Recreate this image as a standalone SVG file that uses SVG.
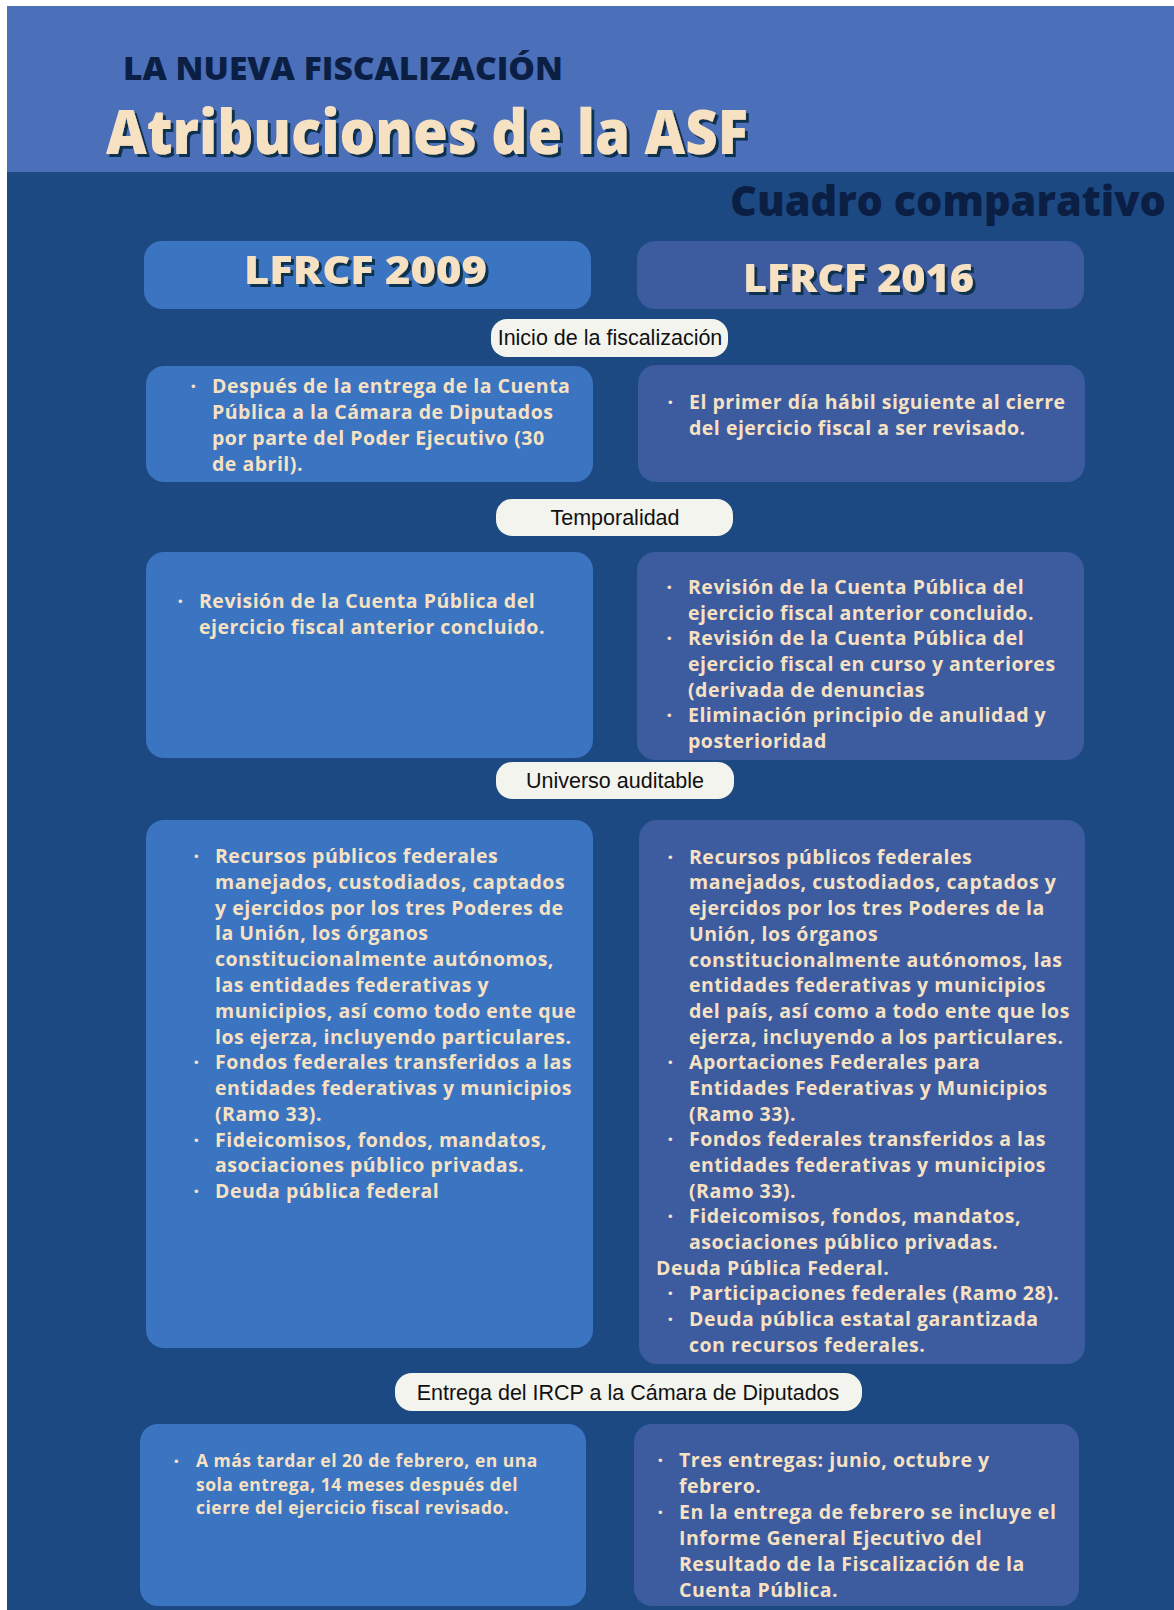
<svg xmlns="http://www.w3.org/2000/svg" width="1174" height="1610" viewBox="0 0 1174 1610">
<defs>
<filter id="sh" x="-5%" y="-20%" width="115%" height="150%">
<feDropShadow dx="3" dy="3" stdDeviation="0.6" flood-color="#0F3050" flood-opacity="1"/>
</filter>
<style>
.bg{fill:#1D4983}
.l{fill:#3B74C1}
.r{fill:#3D5B9F}
.pill{fill:#F3F4EE}
.pt{font-family:"Liberation Sans",Arial,sans-serif;font-size:21.5px;fill:#111;text-anchor:middle}
.t{font-family:"Open Sans","Liberation Sans",sans-serif;font-weight:700;font-size:19.5px;letter-spacing:0.5px;fill:#F7E1C3}
.s{font-size:17.5px}
.b{font-family:"Liberation Sans",sans-serif;font-size:13px;fill:#F7E1C3}
.dark{font-family:"Open Sans","Liberation Sans",sans-serif;font-weight:800;fill:#0B1F45}
.cream{font-family:"Open Sans","Liberation Sans",sans-serif;font-weight:800;fill:#F7E1C3;filter:url(#sh)}
</style>
</defs>
<rect x="0" y="0" width="1174" height="1610" fill="#ffffff"/>
<rect class="bg" x="7" y="6" width="1167" height="1604"/>
<rect x="7" y="6" width="1167" height="166" fill="#4B6FB8"/>

<g id="title">
<text class="dark" x="123" y="80" font-size="32" textLength="440" lengthAdjust="spacingAndGlyphs">LA NUEVA FISCALIZACIÓN</text>
<text class="cream" x="106" y="154" font-size="62" textLength="642" lengthAdjust="spacingAndGlyphs">Atribuciones de la ASF</text>
<text class="dark" x="730" y="216" font-size="42" textLength="436" lengthAdjust="spacingAndGlyphs">Cuadro comparativo</text>
</g>

<g id="head2009">
<rect class="l" x="144" y="241" width="447" height="68" rx="18"/>
<text class="cream" x="244" y="284" font-size="38" textLength="243" lengthAdjust="spacingAndGlyphs">LFRCF 2009</text>
</g>
<g id="head2016">
<rect class="r" x="637" y="241" width="447" height="68" rx="18"/>
<text class="cream" x="743" y="292" font-size="38" textLength="231" lengthAdjust="spacingAndGlyphs">LFRCF 2016</text>
</g>

<g id="pill-inicio">
<rect class="pill" x="491" y="319" width="237" height="38" rx="16"/>
<text class="pt" x="610" y="345">Inicio de la fiscalización</text>
</g>
<g id="inicio-2009">
<rect class="l" x="146" y="366" width="447" height="116" rx="18"/>
<text class="b" x="191" y="391">•</text>
<text class="t"><tspan x="212" y="393">Después de la entrega de la Cuenta</tspan><tspan x="212" y="419">Pública a la Cámara de Diputados</tspan><tspan x="212" y="445">por parte del Poder Ejecutivo (30</tspan><tspan x="212" y="471">de abril).</tspan></text>
</g>
<g id="inicio-2016">
<rect class="r" x="638" y="365" width="447" height="117" rx="18"/>
<text class="b" x="668" y="407">•</text>
<text class="t"><tspan x="689" y="409">El primer día hábil siguiente al cierre</tspan><tspan x="689" y="435">del ejercicio fiscal a ser revisado.</tspan></text>
</g>

<g id="pill-temporalidad">
<rect class="pill" x="496" y="499" width="237" height="37" rx="16"/>
<text class="pt" x="615" y="525">Temporalidad</text>
</g>
<g id="temp-2009">
<rect class="l" x="146" y="552" width="447" height="206" rx="18"/>
<text class="b" x="178" y="606">•</text>
<text class="t"><tspan x="199" y="608">Revisión de la Cuenta Pública del</tspan><tspan x="199" y="634">ejercicio fiscal anterior concluido.</tspan></text>
</g>
<g id="temp-2016">
<rect class="r" x="637" y="552" width="447" height="208" rx="18"/>
<text class="b" x="667" y="592">•</text>
<text class="b" x="667" y="643">•</text>
<text class="b" x="667" y="720">•</text>
<text class="t"><tspan x="688" y="594">Revisión de la Cuenta Pública del</tspan><tspan x="688" y="620">ejercicio fiscal anterior concluido.</tspan><tspan x="688" y="645">Revisión de la Cuenta Pública del</tspan><tspan x="688" y="671">ejercicio fiscal en curso y anteriores</tspan><tspan x="688" y="697">(derivada de denuncias</tspan><tspan x="688" y="722">Eliminación principio de anulidad y</tspan><tspan x="688" y="748">posterioridad</tspan></text>
</g>

<g id="pill-universo">
<rect class="pill" x="496" y="762" width="238" height="37" rx="16"/>
<text class="pt" x="615" y="788">Universo auditable</text>
</g>
<g id="univ-2009">
<rect class="l" x="146" y="820" width="447" height="528" rx="18"/>
<text class="b" x="194" y="861">•</text>
<text class="b" x="194" y="1067">•</text>
<text class="b" x="194" y="1145">•</text>
<text class="b" x="194" y="1196">•</text>
<text class="t"><tspan x="215" y="863">Recursos públicos federales</tspan><tspan x="215" y="889">manejados, custodiados, captados</tspan><tspan x="215" y="915">y ejercidos por los tres Poderes de</tspan><tspan x="215" y="940">la Unión, los órganos</tspan><tspan x="215" y="966">constitucionalmente autónomos,</tspan><tspan x="215" y="992">las entidades federativas y</tspan><tspan x="215" y="1018">municipios, así como todo ente que</tspan><tspan x="215" y="1044">los ejerza, incluyendo particulares.</tspan><tspan x="215" y="1069">Fondos federales transferidos a las</tspan><tspan x="215" y="1095">entidades federativas y municipios</tspan><tspan x="215" y="1121">(Ramo 33).</tspan><tspan x="215" y="1147">Fideicomisos, fondos, mandatos,</tspan><tspan x="215" y="1172">asociaciones público privadas.</tspan><tspan x="215" y="1198">Deuda pública federal</tspan></text>
</g>
<g id="univ-2016">
<rect class="r" x="639" y="820" width="446" height="544" rx="18"/>
<text class="b" x="668" y="862">•</text>
<text class="b" x="668" y="1067">•</text>
<text class="b" x="668" y="1144">•</text>
<text class="b" x="668" y="1221">•</text>
<text class="b" x="668" y="1298">•</text>
<text class="b" x="668" y="1324">•</text>
<text class="t"><tspan x="689" y="864">Recursos públicos federales</tspan><tspan x="689" y="889">manejados, custodiados, captados y</tspan><tspan x="689" y="915">ejercidos por los tres Poderes de la</tspan><tspan x="689" y="941">Unión, los órganos</tspan><tspan x="689" y="967">constitucionalmente autónomos, las</tspan><tspan x="689" y="992">entidades federativas y municipios</tspan><tspan x="689" y="1018">del país, así como a todo ente que los</tspan><tspan x="689" y="1044">ejerza, incluyendo a los particulares.</tspan><tspan x="689" y="1069">Aportaciones Federales para</tspan><tspan x="689" y="1095">Entidades Federativas y Municipios</tspan><tspan x="689" y="1121">(Ramo 33).</tspan><tspan x="689" y="1146">Fondos federales transferidos a las</tspan><tspan x="689" y="1172">entidades federativas y municipios</tspan><tspan x="689" y="1198">(Ramo 33).</tspan><tspan x="689" y="1223">Fideicomisos, fondos, mandatos,</tspan><tspan x="689" y="1249">asociaciones público privadas.</tspan><tspan x="656" y="1275">Deuda Pública Federal.</tspan><tspan x="689" y="1300">Participaciones federales (Ramo 28).</tspan><tspan x="689" y="1326">Deuda pública estatal garantizada</tspan><tspan x="689" y="1352">con recursos federales.</tspan></text>
</g>

<g id="pill-entrega">
<rect class="pill" x="395" y="1373" width="467" height="38" rx="17"/>
<text class="pt" x="628" y="1400">Entrega del IRCP a la Cámara de Diputados</text>
</g>
<g id="entrega-2009">
<rect class="l" x="140" y="1424" width="446" height="182" rx="18"/>
<text class="b" x="174" y="1466">•</text>
<text class="t s"><tspan x="196" y="1467">A más tardar el 20 de febrero, en una</tspan><tspan x="196" y="1491">sola entrega, 14 meses después del</tspan><tspan x="196" y="1514">cierre del ejercicio fiscal revisado.</tspan></text>
</g>
<g id="entrega-2016">
<rect class="r" x="634" y="1424" width="445" height="182" rx="18"/>
<text class="b" x="658" y="1465">•</text>
<text class="b" x="658" y="1517">•</text>
<text class="t"><tspan x="679" y="1467">Tres entregas: junio, octubre y</tspan><tspan x="679" y="1493">febrero.</tspan><tspan x="679" y="1519">En la entrega de febrero se incluye el</tspan><tspan x="679" y="1545">Informe General Ejecutivo del</tspan><tspan x="679" y="1571">Resultado de la Fiscalización de la</tspan><tspan x="679" y="1597">Cuenta Pública.</tspan></text>
</g>
<g id="connectors"/>
</svg>
